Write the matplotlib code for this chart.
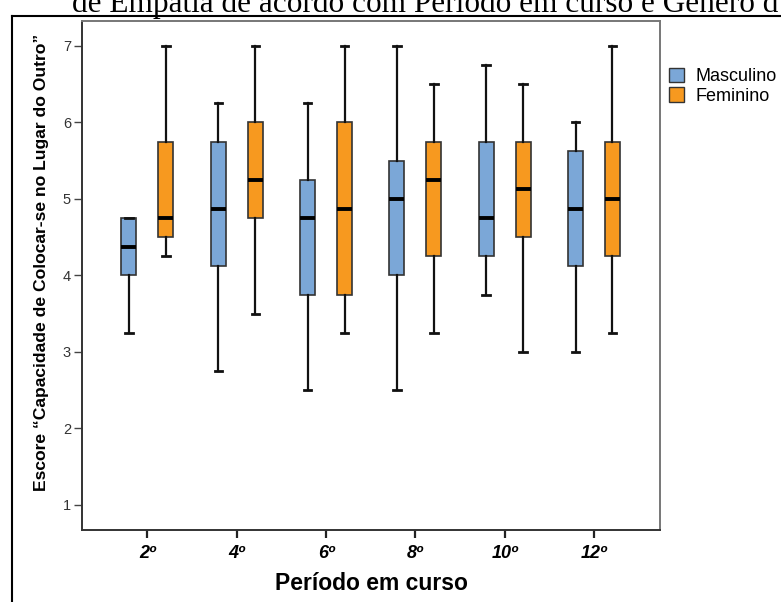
import numpy as np
import matplotlib
matplotlib.use("Agg")
import matplotlib.pyplot as plt
from matplotlib.lines import Line2D
from matplotlib.patches import Patch

# dados (escore por período e gênero)
periodos = ["2º", "4º", "6º", "8º", "10º", "12º"]

masc_min = [3.25, 2.75, 2.5, 2.5, 3.75, 3.0]
masc_q1 = [4.0, 4.125, 3.75, 4.0, 4.25, 4.125]
masc_med = [4.375, 4.875, 4.75, 5.0, 4.75, 4.875]
masc_q3 = [4.75, 5.75, 5.25, 5.5, 5.75, 5.625]
masc_max = [4.75, 6.25, 6.25, 7.0, 6.75, 6.0]

fem_min = [4.25, 3.5, 3.25, 3.25, 3.0, 3.25]
fem_q1 = [4.5, 4.75, 3.75, 4.25, 4.5, 4.25]
fem_med = [4.75, 5.25, 4.875, 5.25, 5.125, 5.0]
fem_q3 = [5.75, 6.0, 6.0, 5.75, 5.75, 5.75]
fem_max = [7.0, 7.0, 7.0, 6.5, 6.5, 7.0]

cor_masc = "#7BA7D7"
cor_fem = "#F7991F"

W, H = 781, 602
fig = plt.figure(figsize=(W / 100, H / 100), dpi=100)
fig.patch.set_facecolor("white")

ax = fig.add_axes([82 / W, 1 - 530 / H, (660 - 82) / W, (530 - 20.7) / H])


def montar_stats(lo, q1, med, q3, hi):
    return [dict(whislo=a, q1=b, med=c, q3=d, whishi=e, fliers=[])
            for a, b, c, d, e in zip(lo, q1, med, q3, hi)]


x = np.arange(len(periodos))
desloc = 0.207
largura = 0.168

for stats, pos, cor in [
    (montar_stats(masc_min, masc_q1, masc_med, masc_q3, masc_max), x - desloc, cor_masc),
    (montar_stats(fem_min, fem_q1, fem_med, fem_q3, fem_max), x + desloc, cor_fem),
]:
    ax.bxp(stats, positions=pos, widths=largura, patch_artist=True,
           showfliers=False, manage_ticks=False,
           boxprops=dict(facecolor=cor, edgecolor="#333333", linewidth=1.2),
           medianprops=dict(color="black", linewidth=2.8),
           whiskerprops=dict(color="#111111", linewidth=1.6),
           capprops=dict(color="#111111", linewidth=2.0),
           capwidths=largura * 0.5)

ax.set_xlim(-0.733, 5.739)
ax.set_ylim(0.673, 7.33)

ax.set_xticks(x)
ax.set_xticklabels(periodos, fontsize=13, fontweight="bold", fontstyle="italic",
                   family="Liberation Sans")
ax.set_yticks([1, 2, 3, 4, 5, 6, 7])
ax.set_yticklabels(["1", "2", "3", "4", "5", "6", "7"], fontsize=10.5,
                   family="Liberation Sans", color="#333333")
ax.tick_params(axis="y", length=6, width=1.0, color="#444444", pad=2)
ax.tick_params(axis="x", length=6, width=1.6, color="#222222", pad=5)

for lado in ["left", "bottom"]:
    ax.spines[lado].set_color("#333333")
    ax.spines[lado].set_linewidth(1.4)
for lado in ["top", "right"]:
    ax.spines[lado].set_color("#777777")
    ax.spines[lado].set_linewidth(1.4)

# rótulos dos eixos
fig.text(371 / W, 1 - 584 / H, "Período em curso", ha="center", va="center",
         fontsize=16.5, fontweight="bold", family="Liberation Sans")
fig.text(42 / W, 1 - 262 / H, "Escore “Capacidade de Colocar-se no Lugar do Outro”",
         ha="center", va="center", rotation=90, fontsize=12.6, fontweight="bold",
         family="Liberation Sans")

# legenda
alcas = [Patch(facecolor=cor_masc, edgecolor="#333333", linewidth=1.0),
         Patch(facecolor=cor_fem, edgecolor="#333333", linewidth=1.0)]
fig.legend(alcas, ["Masculino", "Feminino"], loc="upper left",
           bbox_to_anchor=(669 / W, 1 - 68 / H), frameon=False,
           prop={"family": "Liberation Sans", "size": 13},
           handlelength=0.85, handleheight=0.85, handletextpad=0.6,
           labelspacing=0.1, borderaxespad=0, borderpad=0)

# título cortado no topo e moldura externa
fig.text(72 / W, 1 - 11.7 / H,
         "de Empatia de acordo com Período em curso e Gênero d",
         ha="left", va="baseline", fontsize=22.5, family="Liberation Serif")
fig.add_artist(Line2D([12 / W, 12 / W], [0, 1 - 15.7 / H], transform=fig.transFigure,
                      color="black", linewidth=1.5))
fig.add_artist(Line2D([12 / W, 1], [1 - 15.7 / H, 1 - 15.7 / H], transform=fig.transFigure,
                      color="black", linewidth=1.5))

fig.savefig("out.png", dpi=100)
